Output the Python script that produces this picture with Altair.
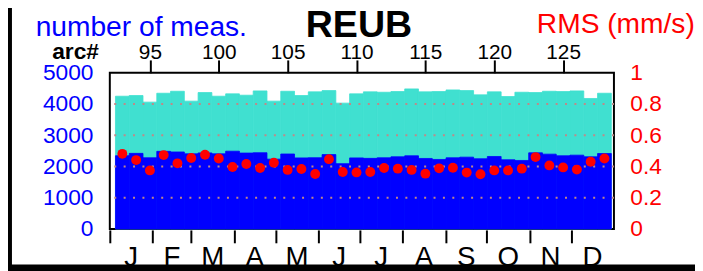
import altair as alt
import pandas as pd

# ---- data ----
arcs = list(range(93, 129))
total_meas = [4250, 4272, 4060, 4345, 4408, 4092, 4367, 4250, 4325, 4282, 4420, 4092,
              4408, 4272, 4389, 4430, 4028, 4325, 4389, 4377, 4399, 4484, 4389, 4399,
              4451, 4430, 4293, 4389, 4240, 4377, 4367, 4408, 4399, 4420, 4177, 4345]
used_meas = [2345, 2420, 2278, 2485, 2465, 2405, 2435, 2405, 2490, 2430, 2440, 2235,
             2400, 2275, 2280, 2380, 2090, 2275, 2260, 2278, 2310, 2342, 2257, 2225,
             2278, 2299, 2247, 2320, 2215, 2193, 2437, 2395, 2342, 2363, 2310, 2415]
rms = [0.481, 0.441, 0.375, 0.473, 0.420, 0.454, 0.475, 0.451, 0.397, 0.416, 0.390, 0.424,
       0.378, 0.384, 0.352, 0.447, 0.365, 0.362, 0.365, 0.390, 0.386, 0.378, 0.354, 0.388,
       0.392, 0.361, 0.350, 0.375, 0.375, 0.386, 0.460, 0.407, 0.394, 0.380, 0.430, 0.451]
arc_ticks = [95, 100, 105, 110, 115, 120, 125]
month_labels = ["J", "F", "M", "A", "M", "J", "J", "A", "S", "O", "N", "D"]
month_days = [31, 28, 31, 30, 31, 30, 31, 31, 30, 31, 30, 31]
meas_ticks = [0, 1000, 2000, 3000, 4000, 5000]
rms_ticks = [0, 0.2, 0.4, 0.6, 0.8, 1]
grid_levels = [1000, 2000, 3000, 4000]

W, H = 510, 158
FONT = "Liberation Sans"
BLUE = "#0000ff"
RED = "#ff0000"
TURQ = "#40e0d0"

df = pd.DataFrame({
    "arc": arcs,
    "start": [a - 0.5 for a in arcs],
    "end": [a + 0.5 for a in arcs],
    "total": total_meas,
    "used": used_meas,
    "rms": rms,
})
starts = []
acc = 0
for d in month_days:
    starts.append(acc)
    acc += d
mdf = pd.DataFrame({
    "start": starts,
    "mid": [s + d / 2 for s, d in zip(starts, month_days)],
    "label": month_labels,
})

xarc = alt.Scale(domain=[92.09, 128.69], nice=False, zero=False)
xday = alt.Scale(domain=[0, 365], nice=False, zero=False)
ymeas = alt.Scale(domain=[0, 5000], nice=False, zero=True)
yrms = alt.Scale(domain=[0, 1], nice=False, zero=True)

turq = alt.Chart(df).mark_rect(
    color=TURQ, opacity=1, stroke=TURQ, strokeWidth=0.8
).encode(
    x=alt.X("start:Q", scale=xarc, title=None,
            axis=alt.Axis(orient="top", values=arc_ticks, grid=False, domain=False,
                          tickSize=13, tickWidth=2, tickColor="black",
                          labelFont=FONT, labelFontSize=21, labelColor="black",
                          labelBaseline="alphabetic", labelPadding=1,
                          labelFlush=False, labelOverlap=False)),
    x2="end:Q",
    y=alt.Y("total:Q", scale=ymeas, title=None,
            axis=alt.Axis(orient="left", values=meas_ticks, format="d", grid=False,
                          domain=False, ticks=False, labelPadding=17,
                          labelFont=FONT, labelFontSize=23, labelColor=BLUE,
                          labelFlush=False, labelOverlap=False)),
    y2=alt.datum(0),
)

blue = alt.Chart(df).mark_rect(
    color=BLUE, opacity=1, stroke=BLUE, strokeWidth=0.8
).encode(
    x=alt.X("start:Q", scale=xarc, axis=None),
    x2="end:Q",
    y=alt.Y("used:Q", scale=ymeas, axis=None),
    y2=alt.datum(0),
)

grid = alt.Chart(pd.DataFrame({"g": grid_levels})).mark_rule(
    color="#c08888", strokeWidth=2, strokeDash=[2, 7.5]
).encode(y=alt.Y("g:Q", scale=ymeas, axis=None))

months = alt.Chart(mdf).mark_text(
    font=FONT, fontSize=28, color="black", baseline="alphabetic", align="center"
).encode(
    x=alt.X("mid:Q", scale=xday, title=None,
            axis=alt.Axis(orient="bottom", values=starts, labels=False, grid=False,
                          domain=False, tickSize=13, tickWidth=2, tickColor="black",
                          offset=1)),
    y=alt.value(195),
    text="label:N",
)

dots = alt.Chart(df).mark_circle(color=RED, size=100, opacity=1).encode(
    x=alt.X("arc:Q", scale=xarc, axis=None),
    y=alt.Y("rms:Q", scale=yrms, title=None,
            axis=alt.Axis(orient="right", values=rms_ticks, format="~g", grid=False,
                          domain=False, ticks=False, labelPadding=16,
                          labelFont=FONT, labelFontSize=23, labelColor=RED,
                          labelFlush=False, labelOverlap=False)),
)

one = pd.DataFrame({"k": [0]})


def label(txt, x, y, size, color, align, weight="normal"):
    return alt.Chart(one).mark_text(
        text=txt, font=FONT, fontSize=size, color=color, align=align,
        baseline="alphabetic", fontWeight=weight
    ).encode(x=alt.value(x), y=alt.value(y))


t_left = label("number of meas.", -75, -37, 28.5, BLUE, "left")
t_title = label("REUB", 252, -36, 38, "black", "center", "bold")
t_right = label("RMS (mm/s)", 432, -40, 28.5, RED, "left")
t_arc = label("arc#", -11, -14, 23, "black", "right", "bold")

border_left = alt.Chart(one).mark_rect(color="black").encode(
    x=alt.value(-112), x2=alt.value(-99), y=alt.value(-80), y2=alt.value(205))
border_bottom = alt.Chart(one).mark_rect(color="black").encode(
    x=alt.value(-112), x2=alt.value(600), y=alt.value(194), y2=alt.value(205))

chart = alt.layer(
    turq, blue, grid, months, dots, t_left, t_title, t_right, t_arc,
    border_left, border_bottom
).resolve_scale(
    x="independent", y="independent"
).properties(
    width=W, height=H,
    autosize=alt.AutoSizeParams(type="none"),
    padding={"left": 103, "top": 64, "right": 82, "bottom": 41},
    background="white",
).configure_view(
    stroke="black", strokeWidth=2
)

chart.save("out.html", embed_options={"renderer": "svg", "actions": False})
